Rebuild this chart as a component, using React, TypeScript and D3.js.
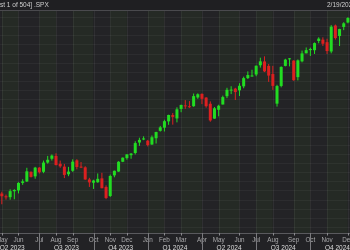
import React from "react";
import * as d3 from "d3";

const W = 350;
const H = 250;

const weeks = [
  "2023-05-05","2023-05-12","2023-05-19","2023-05-26",
  "2023-06-02","2023-06-09","2023-06-16","2023-06-23","2023-06-30",
  "2023-07-07","2023-07-14","2023-07-21","2023-07-28",
  "2023-08-04","2023-08-11","2023-08-18","2023-08-25",
  "2023-09-01","2023-09-08","2023-09-15","2023-09-22","2023-09-29",
  "2023-10-06","2023-10-13","2023-10-20","2023-10-27",
  "2023-11-03","2023-11-10","2023-11-17","2023-11-24",
  "2023-12-01","2023-12-08","2023-12-15","2023-12-22","2023-12-29",
  "2024-01-05","2024-01-12","2024-01-19","2024-01-26",
  "2024-02-02","2024-02-09","2024-02-16","2024-02-23",
  "2024-03-01","2024-03-08","2024-03-15","2024-03-22","2024-03-29",
  "2024-04-05","2024-04-12","2024-04-19","2024-04-26",
  "2024-05-03","2024-05-10","2024-05-17","2024-05-24","2024-05-31",
  "2024-06-07","2024-06-14","2024-06-21","2024-06-28",
  "2024-07-05","2024-07-12","2024-07-19","2024-07-26",
  "2024-08-02","2024-08-09","2024-08-16","2024-08-23","2024-08-30",
  "2024-09-06","2024-09-13","2024-09-20","2024-09-27",
  "2024-10-04","2024-10-11","2024-10-18","2024-10-25",
  "2024-11-01","2024-11-08","2024-11-15","2024-11-22","2024-11-29",
  "2024-12-06",
];

const openValues = [
  4166, 4136, 4126, 4191, 4200, 4282, 4298, 4404, 4354, 4450, 4404, 4505, 4547,
  4578, 4492, 4461, 4377, 4415, 4530, 4461, 4453, 4320, 4284, 4289, 4332, 4238,
  4139, 4365, 4407, 4514, 4554, 4586, 4610, 4725, 4758,
  4745, 4703, 4772, 4853, 4888, 4957, 5026, 4989, 5093, 5132, 5123, 5123, 5219,
  5258, 5218, 5150, 4987, 5084, 5142, 5233, 5303, 5316, 5297, 5341, 5431, 5459,
  5471, 5572, 5614, 5565, 5476, 5151, 5345, 5565, 5637, 5623, 5442, 5615, 5703,
  5738, 5737, 5838, 5853, 5825, 5723, 6008, 5893, 5992, 6041,
];
const highValues = [
  4186, 4154, 4212, 4213, 4290, 4322, 4448, 4408, 4458, 4456, 4527, 4578, 4594,
  4607, 4527, 4491, 4458, 4541, 4542, 4511, 4465, 4338, 4317, 4386, 4393, 4255,
  4373, 4418, 4521, 4561, 4596, 4609, 4739, 4778, 4793,
  4754, 4802, 4843, 4907, 4975, 5030, 5048, 5111, 5140, 5190, 5179, 5262, 5264,
  5264, 5222, 5176, 5114, 5139, 5239, 5325, 5342, 5325, 5375, 5447, 5505, 5523,
  5570, 5655, 5670, 5586, 5566, 5358, 5560, 5643, 5651, 5627, 5636, 5733, 5767,
  5765, 5822, 5879, 5878, 5863, 6012, 6018, 5972, 6044, 6099,
];
const lowValues = [
  4048, 4099, 4098, 4103, 4167, 4261, 4292, 4341, 4328, 4385, 4389, 4493, 4527,
  4474, 4448, 4335, 4356, 4403, 4431, 4445, 4316, 4238, 4216, 4284, 4223, 4104,
  4128, 4344, 4404, 4510, 4537, 4547, 4594, 4688, 4751,
  4682, 4700, 4714, 4845, 4846, 4919, 4921, 4946, 5057, 5094, 5105, 5117, 5204,
  5146, 5107, 4953, 4986, 5012, 5142, 5212, 5256, 5191, 5235, 5320, 5421, 5447,
  5452, 5546, 5497, 5390, 5302, 5119, 5330, 5560, 5560, 5402, 5406, 5604, 5703,
  5674, 5696, 5813, 5784, 5696, 5703, 5853, 5783, 5957, 6032,
];
const closeValues = [
  4136, 4124, 4192, 4205, 4282, 4299, 4409, 4348, 4450, 4399, 4505, 4536, 4582,
  4478, 4464, 4370, 4406, 4515, 4457, 4450, 4320, 4288, 4308, 4327, 4224, 4117,
  4358, 4415, 4514, 4559, 4595, 4604, 4719, 4754, 4770,
  4697, 4783, 4840, 4891, 4959, 5027, 5006, 5089, 5137, 5124, 5117, 5234, 5254,
  5204, 5123, 4967, 5100, 5128, 5223, 5303, 5305, 5278, 5347, 5431, 5465, 5460,
  5567, 5615, 5505, 5459, 5346, 5344, 5554, 5634, 5648, 5408, 5626, 5702, 5738,
  5751, 5815, 5864, 5808, 5728, 5995, 5870, 5969, 6032, 6090,
];

const monthLabels = [
  "May", "Jun", "Jul", "Aug", "Sep", "Oct", "Nov", "Dec",
  "Jan", "Feb", "Mar", "Apr", "May", "Jun", "Jul", "Aug", "Sep", "Oct", "Nov", "Dec",
];
const monthStarts = [
  "2023-05-01", "2023-06-01", "2023-07-01", "2023-08-01", "2023-09-01", "2023-10-01",
  "2023-11-01", "2023-12-01", "2024-01-01", "2024-02-01", "2024-03-01", "2024-04-01",
  "2024-05-01", "2024-06-01", "2024-07-01", "2024-08-01", "2024-09-01", "2024-10-01",
  "2024-11-01", "2024-12-01",
];
const quarterLabels = ["Q2 2023", "Q3 2023", "Q4 2023", "Q1 2024", "Q2 2024", "Q3 2024", "Q4 2024"];
const quarterStarts = [
  "2023-04-01", "2023-07-01", "2023-10-01", "2024-01-01", "2024-04-01", "2024-07-01",
  "2024-10-01", "2025-01-01",
];

const headerLeft = "st 1 of 504] .SPX";
const headerRight = "2/19/2025";

const parse = d3.timeParse("%Y-%m-%d");

export default function App() {
  const dates = weeks.map((d) => parse(d) as Date);
  const top = 11;
  const axisY = 233;

  const x = d3
    .scaleTime()
    .domain([dates[0], dates[dates.length - 1]])
    .range([1.82, 347.9]);
  const y = d3.scaleLinear().domain([3733, 6167]).range([axisY, top]);

  const firstBar = (s: string) => d3.timeFriday.ceil(parse(s) as Date);
  const monthX = monthStarts.map((s) => x(firstBar(s)));
  const monthNums = monthStarts.map((s) => (parse(s) as Date).getMonth() + 1);
  const quarterX = quarterStarts.map((s) => x(firstBar(s)));

  const gridVals = d3.range(3800, 6200, 100);
  const bodyW = 3;
  const green = "#22dc22";
  const red = "#dc2020";

  // band edges including one before and after
  const bandEdges = [-20, ...monthX, 400];
  const bandMonths = [4, ...monthNums];

  const font = "'Liberation Sans', Arial, sans-serif";

  return (
    <div style={{ position: "fixed", left: 0, top: 0, width: W, height: H }}>
      <svg width={W} height={H} style={{ display: "block" }}>
        <rect x={0} y={0} width={W} height={H} fill="#222225" />
        {/* month bands */}
        {bandMonths.map((m, i) => (
          <rect
            key={"b" + i}
            x={bandEdges[i]}
            y={top}
            width={Math.max(0, bandEdges[i + 1] - bandEdges[i])}
            height={axisY - top}
            fill={m % 2 === 1 ? "#252a25" : "#232326"}
          />
        ))}
        {/* horizontal grid */}
        {gridVals.map((v) => (
          <line
            key={"g" + v}
            x1={0}
            x2={W}
            y1={Math.round(y(v)) + 0.5}
            y2={Math.round(y(v)) + 0.5}
            stroke="#ffffff"
            strokeOpacity={0.045}
          />
        ))}
        {/* vertical month grid */}
        {monthX.map((mx, i) => (
          <line
            key={"v" + i}
            x1={Math.round(mx) + 0.5}
            x2={Math.round(mx) + 0.5}
            y1={top}
            y2={axisY}
            stroke="#ffffff"
            strokeOpacity={0.06}
          />
        ))}
        {/* header */}
        <rect x={0} y={0} width={W} height={top} fill="#1f1f22" />
        <line x1={0} x2={W} y1={10.5} y2={10.5} stroke="#4a4a4e" />
        <text x={0} y={7} fontSize={6.5} fill="#cfcfcf" fontFamily={font}>
          {headerLeft}
        </text>
        <text x={327} y={7} fontSize={6.5} fill="#cfcfcf" fontFamily={font}>
          {headerRight}
        </text>
        {/* candles */}
        {dates.map((d, i) => {
          const o = openValues[i];
          const c = closeValues[i];
          const up = c >= o;
          const col = up ? green : red;
          const cx = x(d);
          const y1 = y(Math.max(o, c));
          const y2 = y(Math.min(o, c));
          return (
            <g key={"c" + i}>
              <line
                x1={cx}
                x2={cx}
                y1={y(highValues[i])}
                y2={y(lowValues[i])}
                stroke={col}
                strokeWidth={1}
              />
              <rect
                x={cx - bodyW / 2}
                y={y1}
                width={bodyW}
                height={Math.max(1, y2 - y1)}
                fill={col}
              />
            </g>
          );
        })}
        {/* axis */}
        <rect x={0} y={axisY} width={W} height={H - axisY} fill="#222225" />
        <line x1={0} x2={W} y1={axisY + 0.5} y2={axisY + 0.5} stroke="#5a5a5e" />
        {monthX.map((mx, i) => (
          <g key={"m" + i}>
            <line
              x1={Math.round(mx) + 0.5}
              x2={Math.round(mx) + 0.5}
              y1={axisY}
              y2={axisY + 2.5}
              stroke="#8a8a8e"
            />
            <text
              x={mx}
              y={242}
              fontSize={6.3}
              fill="#a8a8aa"
              textAnchor="middle"
              fontFamily={font}
            >
              {monthLabels[i]}
            </text>
          </g>
        ))}
        {quarterX.slice(1, -1).map((qx, i) => (
          <line
            key={"qs" + i}
            x1={Math.round(qx) + 0.5}
            x2={Math.round(qx) + 0.5}
            y1={axisY}
            y2={H}
            stroke="#7a7a7e"
          />
        ))}
        {quarterLabels.map((q, i) => (
          <text
            key={"q" + i}
            x={(quarterX[i] + quarterX[i + 1]) / 2}
            y={249.5}
            fontSize={6.5}
            fill="#dcdcdc"
            textAnchor="middle"
            fontFamily={font}
          >
            {q}
          </text>
        ))}
      </svg>
    </div>
  );
}
